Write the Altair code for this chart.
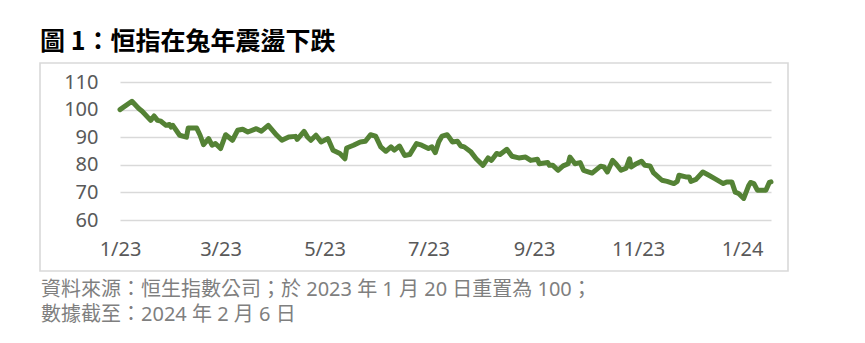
import altair as alt
import pandas as pd

# Days since 2023-01-20 (index base = 100)
days = [0, 7, 11, 13, 18, 20, 22, 24, 27, 29, 30, 31, 35, 39, 40, 45, 47, 49, 52, 54,
        56, 59, 62, 66, 69, 72, 75, 80, 83, 87, 92, 95, 99, 103, 104, 108, 110, 112, 115, 118,
        122, 125, 129, 132, 133, 137, 141, 144, 147, 150, 153, 156, 159, 161, 164, 167, 170, 174, 177, 181,
        183, 185, 187, 189, 192, 193, 195, 198, 200, 202, 206, 209, 213, 216, 218, 221, 223, 227, 230, 234,
        238, 241, 245, 246, 251, 252, 254, 257, 260, 263, 264, 267, 270, 272, 277, 279, 282, 284, 286, 289,
        291, 294, 297, 299, 300, 303, 306, 308, 311, 313, 318, 321, 325, 327, 328, 332, 334, 335, 338, 342,
        345, 349, 354, 356, 359, 361, 363, 366, 369, 370, 372, 374, 379, 381, 382]
values = [100.0, 103.0, 100.4, 99.4, 96.1, 97.7, 96.1, 95.8, 94.3, 94.6, 93.7, 94.3, 90.7, 90.0, 93.3, 93.3, 90.7, 87.3, 89.5, 87.1,
          87.7, 85.9, 90.9, 88.9, 92.5, 92.9, 91.9, 93.1, 92.2, 94.3, 90.7, 88.9, 90.1, 90.3, 89.2, 92.1, 90.1, 88.9, 90.7, 88.3,
          89.5, 85.3, 84.1, 82.2, 86.1, 87.1, 88.3, 88.5, 90.9, 90.4, 86.5, 84.9, 86.5, 85.3, 86.8, 83.4, 83.7, 87.7, 87.1, 85.9,
          86.5, 84.4, 88.3, 90.4, 90.9, 90.1, 88.3, 88.5, 86.8, 86.5, 84.6, 82.2, 79.8, 82.5, 81.6, 84.1, 83.7, 85.6, 83.1, 82.5,
          82.8, 81.6, 82.0, 80.4, 80.8, 79.8, 79.8, 78.0, 79.6, 80.4, 82.8, 80.4, 80.8, 78.0, 77.0, 78.0, 79.5, 79.2, 77.4, 81.6,
          80.4, 78.0, 78.8, 82.2, 79.2, 80.4, 81.3, 79.8, 79.6, 77.2, 74.4, 74.0, 73.2, 74.0, 76.2, 75.6, 75.6, 74.0, 74.7, 77.4,
          76.4, 75.0, 73.2, 73.8, 73.8, 70.1, 69.6, 67.8, 72.6, 73.6, 73.2, 70.8, 70.8, 73.6, 73.8]

tick_days = [0, 59, 120, 181, 243, 304, 365]
tick_labels = ["1/23", "3/23", "5/23", "7/23", "9/23", "11/23", "1/24"]
y_ticks = [60, 70, 80, 90, 100, 110]

title_text = "圖 1：恒指在兔年震盪下跌"
footer_1 = "資料來源：恒生指數公司；於 2023 年 1 月 20 日重置為 100；"
footer_2 = "數據截至：2024 年 2 月 6 日"

df = pd.DataFrame({"day": days, "value": values})

label_expr = "{}[indexof({}, datum.value)]".format(
    "[" + ",".join("'" + t + "'" for t in tick_labels) + "]",
    "[" + ",".join(str(d) for d in tick_days) + "]",
)

line = alt.Chart(df).mark_line(color="#548235", strokeWidth=5, strokeJoin="round", strokeCap="round").encode(
    x=alt.X("day:Q", scale=alt.Scale(domain=[0, 382], nice=False, zero=False),
            axis=alt.Axis(values=tick_days, labelExpr=label_expr, title=None, grid=False,
                          domain=False, ticks=False, labelPadding=19, labelFlush=False,
                          labelOverlap=False, labelBound=False)),
    y=alt.Y("value:Q", scale=alt.Scale(domain=[60, 110], nice=False, zero=False),
            axis=alt.Axis(values=y_ticks, title=None, grid=True, gridColor="#d9d9d9", gridWidth=1.6,
                          domain=False, ticks=False, labelPadding=22)),
)

frame = alt.Chart(pd.DataFrame({"a": [0]})).mark_rect(fill=None, stroke="#d9d9d9", strokeWidth=1.6).encode(
    x=alt.value(-80), x2=alt.value(668), y=alt.value(-19), y2=alt.value(189)
)

title = alt.Chart(pd.DataFrame({"t": [title_text]})).mark_text(
    align="left", baseline="alphabetic", font="Noto Sans CJK TC", fontSize=25, fontWeight="bold", color="#000000"
).encode(text="t:N", x=alt.value(-80), y=alt.value(-32))

foot1 = alt.Chart(pd.DataFrame({"t": [footer_1]})).mark_text(
    align="left", baseline="alphabetic", font="Noto Sans, Noto Sans CJK TC", fontSize=20, color="#7f7f7f"
).encode(text="t:N", x=alt.value(-79), y=alt.value(214))

foot2 = alt.Chart(pd.DataFrame({"t": [footer_2]})).mark_text(
    align="left", baseline="alphabetic", font="Noto Sans, Noto Sans CJK TC", fontSize=20, color="#7f7f7f"
).encode(text="t:N", x=alt.value(-79), y=alt.value(239))

chart = alt.layer(frame, line, title, foot1, foot2).properties(
    width=651, height=138,
    autosize=alt.AutoSizeParams(type="none"),
    padding={"left": 120, "top": 82, "right": 94, "bottom": 123},
).configure_view(stroke=None).configure_axis(
    labelFont="Noto Sans", labelFontSize=20, labelColor="#595959"
)

chart.save("out.html", embed_options={"renderer": "svg", "actions": False})
